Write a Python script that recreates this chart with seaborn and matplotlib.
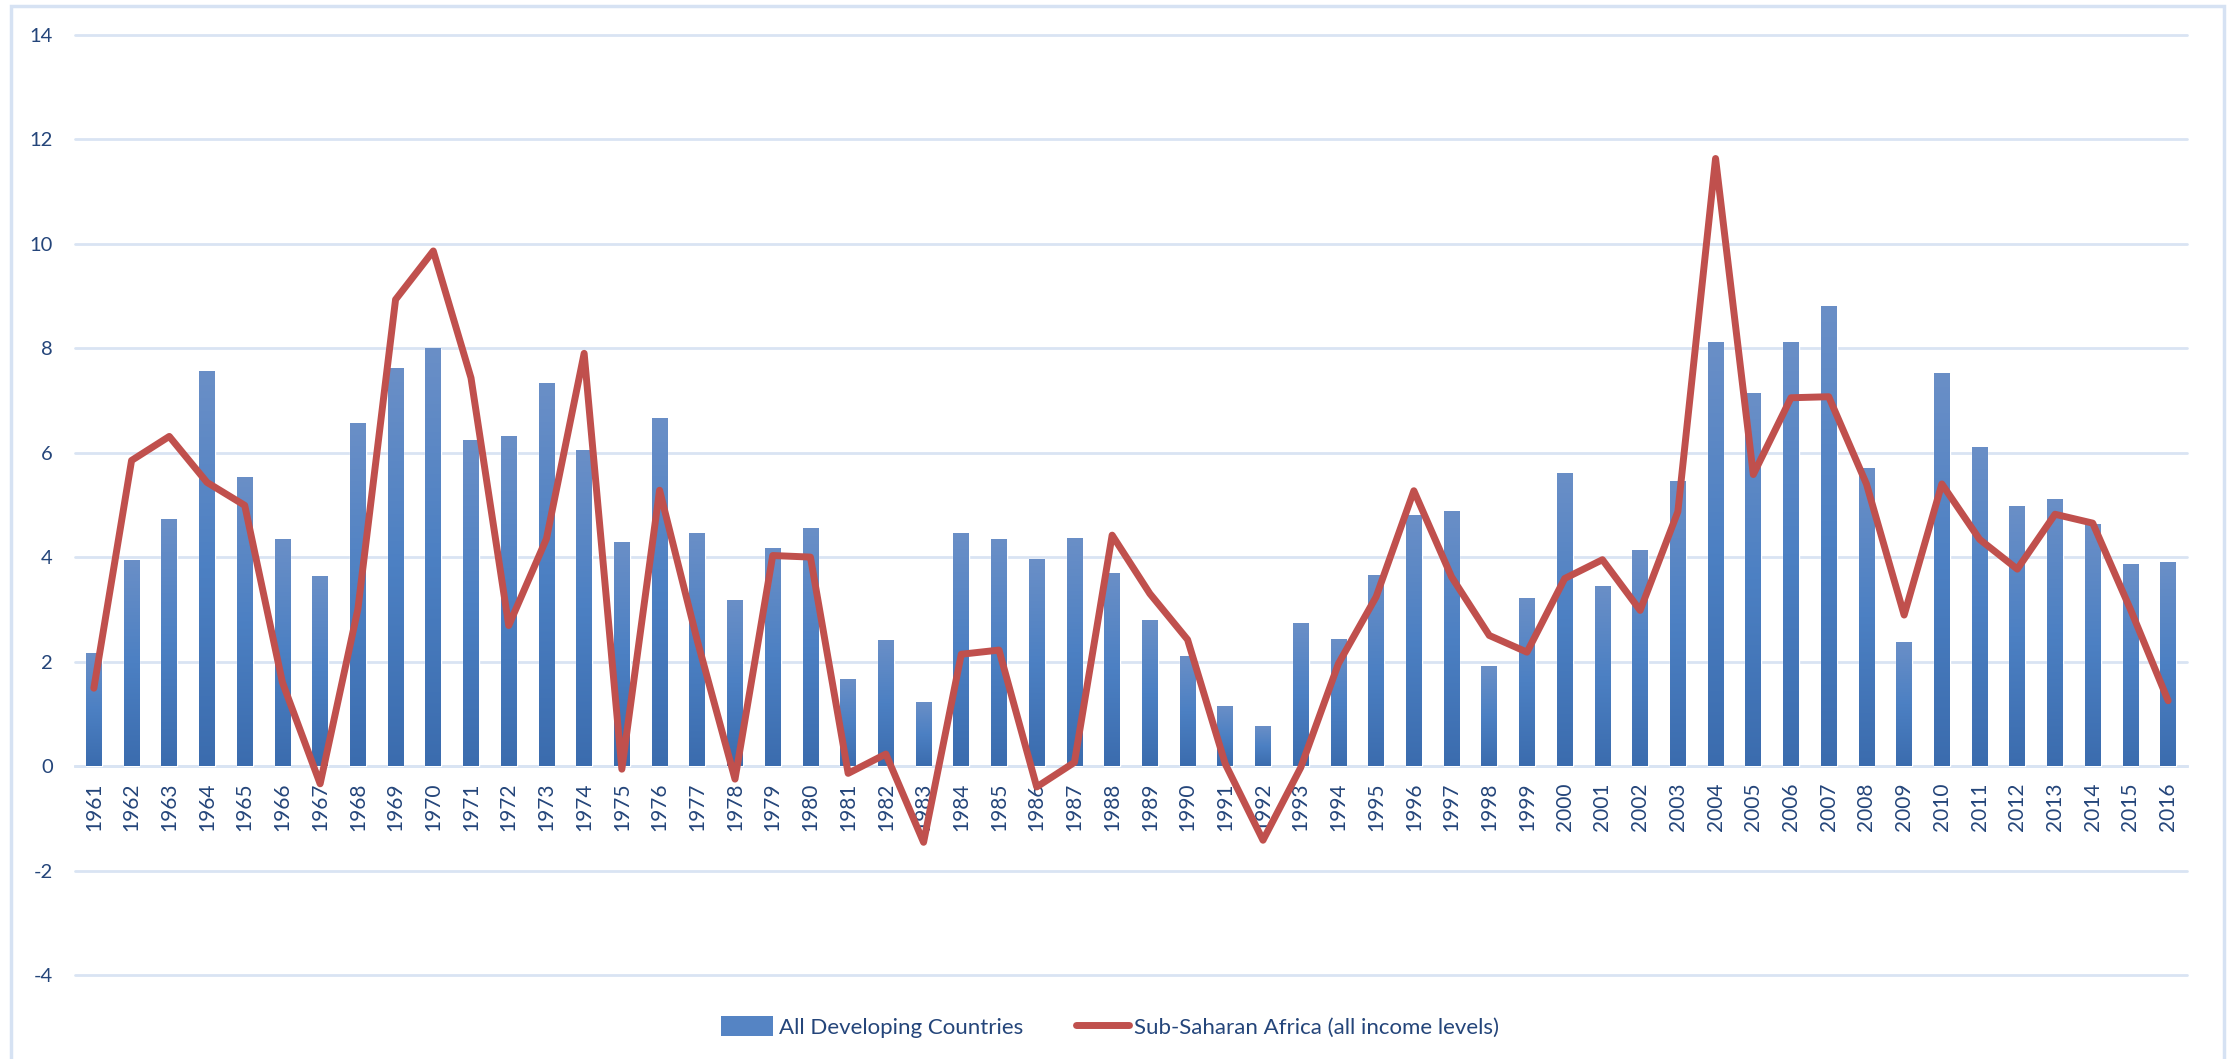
import numpy as np
import pandas as pd
import matplotlib
matplotlib.use("Agg")
import matplotlib.pyplot as plt
from matplotlib.colors import LinearSegmentedColormap
from matplotlib.lines import Line2D
from matplotlib.patches import Patch, Rectangle
import seaborn as sns

years = list(range(1961, 2017))
developing = [2.15, 3.94, 4.72, 7.56, 5.53, 4.34, 3.63, 6.55, 7.60, 7.99,
              6.24, 6.31, 7.32, 6.03, 4.28, 6.66, 4.46, 3.17, 4.17, 4.55,
              1.66, 2.41, 1.22, 4.46, 4.34, 3.96, 4.36, 3.69, 2.79, 2.10,
              1.14, 0.76, 2.73, 2.43, 3.64, 4.79, 4.88, 1.91, 3.21, 5.60,
              3.44, 4.13, 5.45, 8.10, 7.14, 8.10, 8.79, 5.70, 2.37, 7.52,
              6.09, 4.97, 5.11, 4.63, 3.85, 3.89]
ssa = [1.49, 5.85, 6.31, 5.43, 4.99, 1.60, -0.34, 3.00, 8.93, 9.86,
       7.43, 2.69, 4.35, 7.90, -0.06, 5.28, 2.40, -0.25, 4.03, 4.00,
       -0.14, 0.23, -1.46, 2.14, 2.22, -0.40, 0.07, 4.42, 3.30, 2.42,
       0.04, -1.42, -0.03, 1.96, 3.24, 5.27, 3.62, 2.50, 2.18, 3.59,
       3.95, 2.98, 4.87, 11.63, 5.58, 7.05, 7.07, 5.40, 2.89, 5.40,
       4.34, 3.77, 4.82, 4.65, 3.00, 1.25]
y_ticks = [-4, -2, 0, 2, 4, 6, 8, 10, 12, 14]
label_bar = "All Developing Countries"
label_line = "Sub-Saharan Africa (all income levels)"

df = pd.DataFrame({"year": years, "dev": developing, "ssa": ssa})

sns.set_theme(style="white")
plt.rcParams["font.family"] = ["Lato", "DejaVu Sans"]

TXT = "#24457A"
GRID = "#D9E4F3"
BAR = "#4F81BD"
RED = "#C0504D"

W, H = 2231, 1059
fig = plt.figure(figsize=(W / 100, H / 100), dpi=100)
ax = fig.add_axes([75 / W, 1 - 975 / H, (2187 - 75) / W, (975 - 34.7) / H])

sns.barplot(data=df, x="year", y="dev", native_scale=True, width=0.42,
            color=BAR, saturation=1, ax=ax, zorder=2, errorbar=None)

# gradient fill on each bar
cmap = LinearSegmentedColormap.from_list(
    "g", ["#3B6CAE", "#4C80C3", "#6A8FC7"])
grad = np.linspace(0, 1, 256).reshape(-1, 1)
for p in ax.patches:
    x0 = p.get_x(); w = p.get_width(); h = p.get_height(); yb = p.get_y()
    ax.imshow(grad, cmap=cmap, aspect="auto", origin="lower",
              extent=(x0, x0 + w, yb, yb + h), zorder=2.1, interpolation="bicubic")

sns.lineplot(data=df, x="year", y="ssa", color=RED, linewidth=5, ax=ax,
             zorder=3, solid_capstyle="round", solid_joinstyle="round")

for s in ["top", "right", "left"]:
    ax.spines[s].set_visible(False)
ax.spines["bottom"].set_position(("data", 0))
ax.spines["bottom"].set_color(GRID)
ax.spines["bottom"].set_linewidth(2)
ax.spines["bottom"].set_zorder(1)

ax.set_xlim(years[0] - 0.5, years[-1] + 0.5)
ax.set_ylim(y_ticks[0], y_ticks[-1])
ax.set_yticks(y_ticks)
ax.set_yticklabels([str(v) for v in y_ticks])
ax.set_xticks(years)
ax.set_xticklabels([str(y) for y in years], rotation=90, va="top", ha="center")
ax.set_xlabel("")
ax.set_ylabel("")

ax.yaxis.grid(True, color=GRID, linewidth=2)
ax.xaxis.grid(False)
ax.set_axisbelow(True)
for gl in ax.get_ygridlines():
    gl.set_clip_on(False)

ax.tick_params(axis="x", length=0, pad=12, labelsize=15, labelcolor=TXT,
               labelrotation=90)
ax.tick_params(axis="y", length=0, pad=16, labelsize=14.5, labelcolor=TXT)

handles = [Patch(facecolor="#5584C4", edgecolor="none"),
           Line2D([0], [0], color=RED, linewidth=5, solid_capstyle="round")]
fig.legend(handles, [label_bar, label_line], loc="center",
           bbox_to_anchor=(1110 / W, 1 - 1027 / H), ncol=2, frameon=False,
           fontsize=16, labelcolor=TXT, handlelength=2.35, handleheight=1.0,
           handletextpad=0.25, columnspacing=2.4)

fig.patches.append(Rectangle((11 / W, -0.01), (2224 - 11) / W, 1.01 - 6 / H,
                             transform=fig.transFigure, fill=False,
                             edgecolor="#D6E2F3", linewidth=2.5))

fig.savefig("out.png", dpi=100)
